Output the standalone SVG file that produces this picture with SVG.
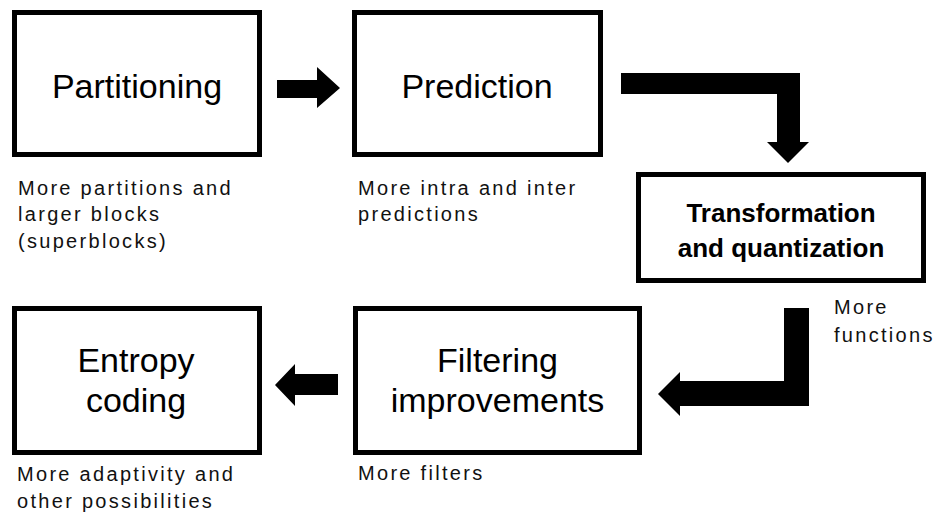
<svg xmlns="http://www.w3.org/2000/svg" width="935" height="516" viewBox="0 0 935 516">
<style>
.box{fill:#fff;stroke:#000;stroke-width:5}
.big{font-family:"Liberation Sans",Arial,sans-serif;font-size:34px;fill:#000;text-anchor:middle}
.bold{font-family:"Liberation Sans",Arial,sans-serif;font-size:26px;font-weight:bold;fill:#000;text-anchor:middle}
.lbl{font-family:"Liberation Sans",Arial,sans-serif;font-size:20px;letter-spacing:2.3px;fill:#111}
.arr{fill:#000}
</style>
<rect width="935" height="516" fill="#fff"/>
<g id="connectors">
<polygon class="arr" points="277,80 317,80 317,67 340,88 317,108 317,98 277,98"/>
<polygon class="arr" points="621,73 800,73 800,142 809,142 788,163 767,142 777,142 777,94 621,94"/>
<polygon class="arr" points="784,308 809,308 809,406 680,406 680,416 658,394 680,372 680,381 784,381"/>
<polygon class="arr" points="338,374 295,374 295,364 275,385 295,406 295,395 338,395"/>
</g>
<g id="partitioning">
<rect class="box" x="14.5" y="12.5" width="245" height="142"/>
<text class="big" x="137" y="98">Partitioning</text>
<text class="lbl" x="18" y="195">More partitions and</text>
<text class="lbl" x="18" y="221">larger blocks</text>
<text class="lbl" x="18" y="248">(superblocks)</text>
</g>
<g id="prediction">
<rect class="box" x="354.5" y="12.5" width="246" height="142"/>
<text class="big" x="477" y="98">Prediction</text>
<text class="lbl" x="358" y="195">More intra and inter</text>
<text class="lbl" x="358" y="221">predictions</text>
</g>
<g id="transformation">
<rect class="box" x="638.5" y="174.5" width="285" height="106"/>
<text class="bold" x="781" y="222">Transformation</text>
<text class="bold" x="781" y="257">and quantization</text>
<text class="lbl" x="834" y="314">More</text>
<text class="lbl" x="834" y="342">functions</text>
</g>
<g id="filtering">
<rect class="box" x="355.5" y="308.5" width="284" height="144"/>
<text class="big" x="497.5" y="372">Filtering</text>
<text class="big" x="497.5" y="412">improvements</text>
<text class="lbl" x="358" y="480">More filters</text>
</g>
<g id="entropy">
<rect class="box" x="14.5" y="308.5" width="245" height="144"/>
<text class="big" x="136" y="372">Entropy</text>
<text class="big" x="136" y="412">coding</text>
<text class="lbl" x="17" y="481">More adaptivity and</text>
<text class="lbl" x="17" y="508">other possibilities</text>
</g>
</svg>
